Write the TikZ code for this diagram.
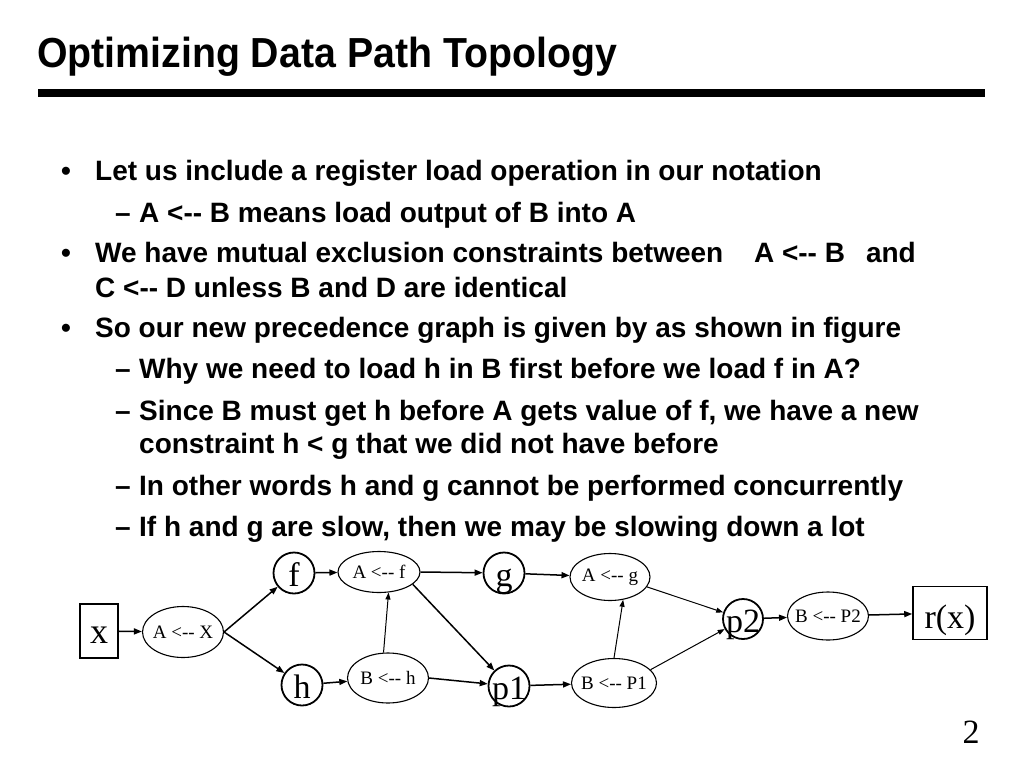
\documentclass[tikz,border=0pt]{standalone}
\usepackage{fontspec}
\setmainfont{Liberation Serif}
\newfontfamily\slidefont{Liberation Sans}
\usetikzlibrary{shapes.geometric,arrows.meta}
% "<--" without the dash ligature
\newcommand\larr{<\kern0pt-\kern0pt-}
\newcommand\ctr[1]{\makebox[0pt]{#1}}

\begin{document}
\begin{tikzpicture}[x=1pt,y=-1pt,
  txt/.style={anchor=base west,inner sep=0pt,font={\slidefont\bfseries\fontsize{28}{32}\selectfont}},
  op/.style={circle,draw,line width=1.8pt,minimum size=41pt,inner sep=0pt,
    text height=26pt,text depth=0pt,font=\fontsize{34}{34}\selectfont},
  ld/.style={ellipse,draw,line width=1.1pt,inner sep=0pt,font=\fontsize{19}{19}\selectfont},
  io/.style={rectangle,draw,line width=1.6pt,inner sep=0pt,font=\fontsize{36}{36}\selectfont},
  arr/.style={-{Triangle[length=8pt,width=6pt]},line width=1.5pt},
  arrthin/.style={-{Triangle[length=7pt,width=5pt]},line width=1pt}]
  \useasboundingbox (0,0) rectangle (1024,768);

  % title and rule
  \node[anchor=base west,inner sep=0pt,font={\slidefont\bfseries\fontsize{42}{46}\selectfont}] (title) at (37,67)
    {\scalebox{0.935}[1]{Optimizing Data Path Topology}};
  \fill (38,89) rectangle (985,97);

  % bullets
  \node[txt] (b1) at (61,180) {•};
  \node[txt] (l1) at (95,180) {Let us include a register load operation in our notation};
  \node[txt] (d1) at (115,222) {–};
  \node[txt] (l2) at (139,222) {A \larr{} B means load output of B into A};
  \node[txt] (b2) at (61,262) {•};
  \node[txt] (l3) at (95,262) {We have mutual exclusion constraints between\hspace{1.1em}A \larr{} B\hspace{0.75em}and};
  \node[txt] (l4) at (95,297) {C \larr{} D unless B and D are identical};
  \node[txt] (b3) at (61,337) {•};
  \node[txt] (l5) at (95,337) {So our new precedence graph is given by as shown in figure};
  \node[txt] (d2) at (115,378) {–};
  \node[txt] (l6) at (139,378) {Why we need to load h in B first before we load f in A?};
  \node[txt] (d3) at (115,420) {–};
  \node[txt] (l7) at (139,420) {Since B must get h before A gets value of f, we have a new};
  \node[txt] (l8) at (139,453) {constraint h < g that we did not have before};
  \node[txt] (d4) at (115,495) {–};
  \node[txt] (l9) at (139,495) {In other words h and g cannot be performed concurrently};
  \node[txt] (d5) at (115,536) {–};
  \node[txt] (l10) at (139,536) {If h and g are slow, then we may be slowing down a lot};

  % precedence graph
  \node[io,minimum width=38pt,minimum height=54pt,text height=24pt,text depth=0pt] (xin) at (99,631) {\ctr{x}};
  \node[ld,minimum width=81pt,minimum height=51pt] (ldx) at (183,632) {\ctr{A \larr{} X}};
  \node[op] (opf) at (294,573) {\ctr{f}};
  \node[op] (oph) at (302,685) {\ctr{h}};
  \node[ld,minimum width=82pt,minimum height=41pt] (ldaf) at (379,572) {\ctr{A \larr{} f}};
  \node[ld,minimum width=81pt,minimum height=50pt] (ldbh) at (388,678) {\ctr{B \larr{} h}};
  \node[op] (opg) at (504,573) {\ctr{g}};
  \node[op] (opp1) at (509,686) {\ctr{p1}};
  \node[ld,minimum width=80pt,minimum height=47pt] (ldag) at (610,577) {\ctr{A \larr{} g}};
  \node[ld,minimum width=85pt,minimum height=49pt] (ldbp1) at (614,683) {\ctr{B \larr{} P1}};
  \node[op,minimum size=40pt] (opp2) at (743,619) {\ctr{p2}};
  \node[ld,minimum width=81pt,minimum height=48pt] (ldbp2) at (828,616) {\ctr{B \larr{} P2}};
  \node[io,minimum width=74pt,minimum height=53pt,text height=30pt,text depth=0pt,
    font=\fontsize{34}{34}\selectfont] (rx) at (950,613) {\ctr{r(x)}};

  \draw[arr] (xin) -- (ldx);
  \draw[arr] (ldx.east) -- (opf);
  \draw[arr] (ldx.east) -- (oph);
  \draw[arr] (opf) -- (ldaf);
  \draw[arr] (oph) -- (ldbh);
  \draw[arr] (ldaf.east) -- (opg);
  \draw[arr] (ldaf.-20) -- (opp1);
  \draw[arr] (ldbh.east) -- (opp1);
  \draw[arrthin] (ldbh.100) -- (ldaf.-65);
  \draw[arr] (opg) -- (ldag);
  \draw[arr] (opp1) -- (ldbp1);
  \draw[arrthin] (ldbp1.north) -- (ldag.-60);
  \draw[arrthin] (ldag.-15) -- (opp2);
  \draw[arrthin] (ldbp1.20) -- (opp2);
  \draw[arr] (opp2) -- (ldbp2);
  \draw[arr] (ldbp2) -- (rx);

  \node[font=\fontsize{34}{34}\selectfont] (pg) at (971,732) {2};
\end{tikzpicture}
\end{document}
